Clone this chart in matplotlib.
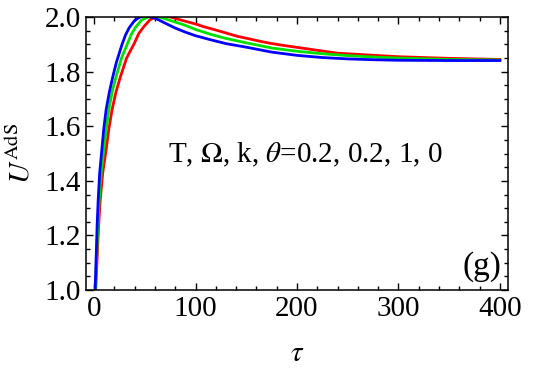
import numpy as np
import matplotlib
matplotlib.use("Agg")
import matplotlib.pyplot as plt
from matplotlib.ticker import MultipleLocator

# Values (tau, U^AdS); peaks are clipped at 2.0
tau_red = [1.5, 3, 4.2, 6, 8.5, 11.8, 14.5, 17.6, 21.5, 25.9, 32, 39.6, 44, 49, 55, 60,
           68, 76, 85, 100, 108, 118, 130, 141, 151, 163, 174, 184, 206, 240, 272, 300,
           350, 400]
u_red = [1.0, 1.12, 1.22, 1.33, 1.43, 1.513, 1.59, 1.659, 1.725, 1.781, 1.85, 1.904,
         1.94, 1.965, 1.99, 2.0, 2.006, 2.0, 1.99, 1.975, 1.965, 1.955, 1.942, 1.93,
         1.922, 1.912, 1.904, 1.898, 1.886, 1.868, 1.861, 1.855, 1.849, 1.845]

tau_green = [1.2, 2.5, 3.5, 5, 7, 9.5, 12, 14.4, 18, 21.6, 27, 33, 37, 41.3, 47, 53, 58,
             64, 70, 80, 90, 100, 115, 130, 150, 175, 200, 225, 250, 275, 300, 350, 400]
u_green = [1.0, 1.12, 1.22, 1.33, 1.43, 1.513, 1.59, 1.659, 1.73, 1.781, 1.85, 1.904,
           1.94, 1.965, 1.99, 2.0, 2.006, 2.0, 1.994, 1.982, 1.97, 1.955, 1.937,
           1.922, 1.906, 1.887, 1.875, 1.866, 1.859, 1.854, 1.85, 1.845, 1.843]

tau_blue = [1, 2, 3, 4, 5.5, 7.5, 9.5, 11.8, 15, 18.3, 22, 27.5, 31, 34.7, 40, 45, 50,
            55, 62, 70, 80, 90, 100, 115, 130, 150, 175, 200, 225, 250, 275, 300, 350, 400]
u_blue = [1.0, 1.12, 1.24, 1.33, 1.43, 1.51, 1.59, 1.66, 1.725, 1.78, 1.835, 1.90, 1.935,
          1.962, 1.988, 2.0, 2.006, 2.002, 1.993, 1.978, 1.96, 1.945, 1.932, 1.917,
          1.903, 1.89, 1.872, 1.86, 1.852, 1.847, 1.844, 1.842, 1.841, 1.841]

x_ticks = [0, 100, 200, 300, 400]
y_ticks = [1.0, 1.2, 1.4, 1.6, 1.8, 2.0]

plt.rcParams['font.family'] = ['Liberation Serif', 'DejaVu Serif']
plt.rcParams['mathtext.fontset'] = 'stix'

fig = plt.figure(figsize=(5.45, 3.73), dpi=100)
ax = fig.add_axes([0.158, 0.2225, 0.774, 0.7315])

for t, u, c in [(tau_red, u_red, '#ff0000'), (tau_green, u_green, '#00e000'),
                (tau_blue, u_blue, '#0000ff')]:
    ax.plot(t, u, color=c, lw=2.0, solid_joinstyle='round')

ax.set_xlim(-7.9, 408)
ax.set_ylim(1.0, 2.0)
ax.set_xticks(x_ticks)
ax.set_yticks(y_ticks)
ax.set_yticklabels(["{:.1f}".format(y) for y in y_ticks])
ax.xaxis.set_minor_locator(MultipleLocator(20))
ax.yaxis.set_minor_locator(MultipleLocator(0.05))
ax.tick_params(which='both', direction='in', top=True, right=True, width=1.0)
ax.tick_params(which='major', length=5, labelsize=21, pad=4)
ax.tick_params(which='minor', length=3)
for s in ax.spines.values():
    s.set_linewidth(1.1)
    s.set_zorder(3)

ax.set_xlabel(r'$\tau$', fontsize=21, labelpad=14)
ax.set_ylabel(r'$U^{\mathrm{AdS}}$', fontsize=21, labelpad=6)

ax.text(73, 1.494, r'T, $\Omega$, k, $\theta$=0.2, 0.2, 1, 0', fontsize=21, va='center')
ax.text(0.985, 0.03, '(g)', transform=ax.transAxes, fontsize=24, ha='right', va='bottom')

fig.savefig('out.png', dpi=100)
